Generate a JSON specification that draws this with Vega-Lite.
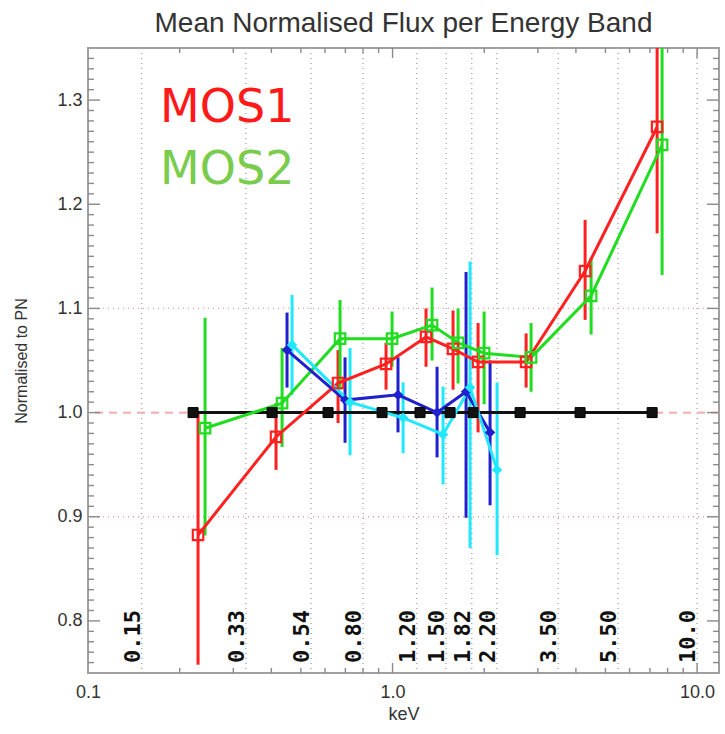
{
  "$schema": "https://vega.github.io/schema/vega-lite/v6.json",
  "width": 631,
  "height": 625,
  "autosize": "none",
  "padding": {"left": 88, "top": 48, "right": 6, "bottom": 61},
  "background": "white",
  "config": {
    "view": {"stroke": "#a0a0a0", "strokeWidth": 2},
    "axis": {"labelFont": "Liberation Sans", "labelFontSize": 18, "labelColor": "#333333", "titleFont": "Liberation Sans", "titleColor": "#333333", "titleFontWeight": "normal", "domain": false, "grid": false, "ticks": false}
  },
  "title": {"text": "Mean Normalised Flux per Energy Band", "font": "Liberation Sans", "fontSize": 28, "fontWeight": "normal", "color": "#333333", "anchor": "middle", "offset": 9},
  "datasets": {
    "pts": [
      {"s": "PN", "e": 0.2213, "v": 1.0},
      {"s": "PN", "e": 0.4021, "v": 1.0},
      {"s": "PN", "e": 0.6141, "v": 1.0},
      {"s": "PN", "e": 0.9237, "v": 1.0},
      {"s": "PN", "e": 1.231, "v": 1.0},
      {"s": "PN", "e": 1.545, "v": 1.0},
      {"s": "PN", "e": 1.838, "v": 1.0},
      {"s": "PN", "e": 2.623, "v": 1.0},
      {"s": "PN", "e": 4.128, "v": 1.0},
      {"s": "PN", "e": 7.117, "v": 1.0},
      {"s": "MOS1", "e": 0.2298, "v": 0.8825, "lo": 0.758, "hi": 1.0},
      {"s": "MOS1", "e": 0.4144, "v": 0.9766, "lo": 0.945, "hi": 1.009},
      {"s": "MOS1", "e": 0.6623, "v": 1.0284, "lo": 0.99, "hi": 1.06},
      {"s": "MOS1", "e": 0.952, "v": 1.0467, "lo": 1.022, "hi": 1.067},
      {"s": "MOS1", "e": 1.288, "v": 1.0726, "lo": 1.044, "hi": 1.1},
      {"s": "MOS1", "e": 1.58, "v": 1.0611, "lo": 1.022, "hi": 1.098},
      {"s": "MOS1", "e": 1.909, "v": 1.0486, "lo": 0.981, "hi": 1.086},
      {"s": "MOS1", "e": 2.745, "v": 1.0486, "lo": 1.024, "hi": 1.076},
      {"s": "MOS1", "e": 4.288, "v": 1.1359, "lo": 1.089, "hi": 1.185},
      {"s": "MOS1", "e": 7.391, "v": 1.2742, "lo": 1.172, "hi": 1.376},
      {"s": "MOS2", "e": 0.2423, "v": 0.985, "lo": 0.882, "hi": 1.091},
      {"s": "MOS2", "e": 0.4337, "v": 1.009, "lo": 0.967, "hi": 1.062},
      {"s": "MOS2", "e": 0.6724, "v": 1.071, "lo": 1.022, "hi": 1.108},
      {"s": "MOS2", "e": 0.9963, "v": 1.071, "lo": 1.044, "hi": 1.097},
      {"s": "MOS2", "e": 1.348, "v": 1.084, "lo": 1.05, "hi": 1.12},
      {"s": "MOS2", "e": 1.641, "v": 1.067, "lo": 1.028, "hi": 1.1},
      {"s": "MOS2", "e": 1.998, "v": 1.057, "lo": 1.008, "hi": 1.097},
      {"s": "MOS2", "e": 2.85, "v": 1.053, "lo": 1.02, "hi": 1.086},
      {"s": "MOS2", "e": 4.487, "v": 1.112, "lo": 1.075, "hi": 1.149},
      {"s": "MOS2", "e": 7.674, "v": 1.257, "lo": 1.132, "hi": 1.382},
      {"s": "MOS1 b", "e": 0.4503, "v": 1.06, "lo": 1.024, "hi": 1.096},
      {"s": "MOS1 b", "e": 0.6982, "v": 1.012, "lo": 0.971, "hi": 1.053},
      {"s": "MOS1 b", "e": 1.042, "v": 1.017, "lo": 0.981, "hi": 1.053},
      {"s": "MOS1 b", "e": 1.4, "v": 1.0, "lo": 0.957, "hi": 1.044},
      {"s": "MOS1 b", "e": 1.743, "v": 1.02, "lo": 0.899, "hi": 1.135},
      {"s": "MOS1 b", "e": 2.09, "v": 0.981, "lo": 0.911, "hi": 1.05},
      {"s": "MOS2 b", "e": 0.4677, "v": 1.065, "lo": 1.017, "hi": 1.113},
      {"s": "MOS2 b", "e": 0.7251, "v": 1.01, "lo": 0.959, "hi": 1.062},
      {"s": "MOS2 b", "e": 1.083, "v": 0.995, "lo": 0.961, "hi": 1.029},
      {"s": "MOS2 b", "e": 1.465, "v": 0.979, "lo": 0.931, "hi": 1.025},
      {"s": "MOS2 b", "e": 1.797, "v": 1.024, "lo": 0.87, "hi": 1.145},
      {"s": "MOS2 b", "e": 2.204, "v": 0.945, "lo": 0.863, "hi": 1.029}
    ],
    "bands": [
      {"b": 0.15, "t": "0.15"},
      {"b": 0.33, "t": "0.33"},
      {"b": 0.54, "t": "0.54"},
      {"b": 0.8, "t": "0.80"},
      {"b": 1.2, "t": "1.20"},
      {"b": 1.5, "t": "1.50"},
      {"b": 1.82, "t": "1.82"},
      {"b": 2.2, "t": "2.20"},
      {"b": 3.5, "t": "3.50"},
      {"b": 5.5, "t": "5.50"},
      {"b": 10.0, "t": "10.0"}
    ],
    "refs": [{"r": 0.9}, {"r": 1.1}],
    "xmajor": [{"k": 1}, {"k": 10}],
    "xminor": [{"k": 0.2}, {"k": 0.3}, {"k": 0.4}, {"k": 0.5}, {"k": 0.6}, {"k": 0.7}, {"k": 0.8}, {"k": 0.9}, {"k": 2}, {"k": 3}, {"k": 4}, {"k": 5}, {"k": 6}, {"k": 7}, {"k": 8}, {"k": 9}],
    "ymajor": [{"k": 0.8}, {"k": 0.9}, {"k": 1.0}, {"k": 1.1}, {"k": 1.2}, {"k": 1.3}],
    "yminor": [
      {"k": 0.76}, {"k": 0.77}, {"k": 0.78}, {"k": 0.79},
      {"k": 0.81}, {"k": 0.82}, {"k": 0.83}, {"k": 0.84}, {"k": 0.85}, {"k": 0.86}, {"k": 0.87}, {"k": 0.88}, {"k": 0.89},
      {"k": 0.91}, {"k": 0.92}, {"k": 0.93}, {"k": 0.94}, {"k": 0.95}, {"k": 0.96}, {"k": 0.97}, {"k": 0.98}, {"k": 0.99},
      {"k": 1.01}, {"k": 1.02}, {"k": 1.03}, {"k": 1.04}, {"k": 1.05}, {"k": 1.06}, {"k": 1.07}, {"k": 1.08}, {"k": 1.09},
      {"k": 1.11}, {"k": 1.12}, {"k": 1.13}, {"k": 1.14}, {"k": 1.15}, {"k": 1.16}, {"k": 1.17}, {"k": 1.18}, {"k": 1.19},
      {"k": 1.21}, {"k": 1.22}, {"k": 1.23}, {"k": 1.24}, {"k": 1.25}, {"k": 1.26}, {"k": 1.27}, {"k": 1.28}, {"k": 1.29},
      {"k": 1.31}, {"k": 1.32}, {"k": 1.33}, {"k": 1.34}
    ]
  },
  "layer": [
    {
      "data": {"name": "bands"},
      "mark": {"type": "rule", "stroke": "#a8a8a8", "strokeDash": [1, 4], "strokeWidth": 1.4},
      "encoding": {
        "x": {"field": "b", "type": "quantitative", "scale": {"type": "log", "domain": [0.1, 11.8], "nice": false, "zero": false},
          "axis": {"orient": "bottom", "values": [0.1, 1, 10], "labelExpr": "datum.value < 0.5 ? '0.1' : datum.value < 5 ? '1.0' : '10.0'", "labelPadding": 10, "labelFlush": false, "labelOverlap": false, "title": "keV", "titleFontSize": 18, "titlePadding": 4}}
      }
    },
    {
      "data": {"name": "refs"},
      "mark": {"type": "rule", "stroke": "#e8a4a4", "strokeDash": [1, 4], "strokeWidth": 1.4},
      "encoding": {
        "y": {"field": "r", "type": "quantitative", "scale": {"domain": [0.75, 1.35], "nice": false, "zero": false},
          "axis": {"orient": "left", "values": [0.8, 0.9, 1.0, 1.1, 1.2, 1.3], "format": ".1f", "labelPadding": 6, "title": "Normalised to PN", "titleFontSize": 16, "titlePadding": 27}}
      }
    },
    {
      "data": {"name": "refs"},
      "mark": {"type": "rule", "stroke": "#f0b4b4", "strokeDash": [8, 6], "strokeWidth": 1.6},
      "encoding": {"y": {"datum": 1.0, "type": "quantitative"}}
    },
    {
      "data": {"name": "xmajor"},
      "mark": {"type": "rule", "stroke": "#8a8a8a", "strokeWidth": 1.4},
      "encoding": {"x": {"field": "k", "type": "quantitative"}, "y": {"datum": 0.75, "type": "quantitative"}, "y2": {"datum": 0.7596}}
    },
    {
      "data": {"name": "xminor"},
      "mark": {"type": "rule", "stroke": "#8a8a8a", "strokeWidth": 1.4},
      "encoding": {"x": {"field": "k", "type": "quantitative"}, "y": {"datum": 0.75, "type": "quantitative"}, "y2": {"datum": 0.7548}}
    },
    {
      "data": {"name": "xmajor"},
      "mark": {"type": "rule", "stroke": "#8a8a8a", "strokeWidth": 1.4},
      "encoding": {"x": {"field": "k", "type": "quantitative"}, "y": {"datum": 1.35, "type": "quantitative"}, "y2": {"datum": 1.3404}}
    },
    {
      "data": {"name": "xminor"},
      "mark": {"type": "rule", "stroke": "#8a8a8a", "strokeWidth": 1.4},
      "encoding": {"x": {"field": "k", "type": "quantitative"}, "y": {"datum": 1.35, "type": "quantitative"}, "y2": {"datum": 1.3452}}
    },
    {
      "data": {"name": "ymajor"},
      "mark": {"type": "rule", "stroke": "#8a8a8a", "strokeWidth": 1.4},
      "encoding": {"y": {"field": "k", "type": "quantitative"}, "x": {"datum": 0.1, "type": "quantitative"}, "x2": {"datum": 0.1095}}
    },
    {
      "data": {"name": "yminor"},
      "mark": {"type": "rule", "stroke": "#8a8a8a", "strokeWidth": 1.4},
      "encoding": {"y": {"field": "k", "type": "quantitative"}, "x": {"datum": 0.1, "type": "quantitative"}, "x2": {"datum": 0.1046}}
    },
    {
      "data": {"name": "ymajor"},
      "mark": {"type": "rule", "stroke": "#8a8a8a", "strokeWidth": 1.4},
      "encoding": {"y": {"field": "k", "type": "quantitative"}, "x": {"datum": 11.8, "type": "quantitative"}, "x2": {"datum": 10.77}}
    },
    {
      "data": {"name": "yminor"},
      "mark": {"type": "rule", "stroke": "#8a8a8a", "strokeWidth": 1.4},
      "encoding": {"y": {"field": "k", "type": "quantitative"}, "x": {"datum": 11.8, "type": "quantitative"}, "x2": {"datum": 11.28}}
    },
    {
      "data": {"name": "pts"},
      "transform": [{"filter": "datum.s !== 'PN'"}],
      "mark": {"type": "rule", "strokeWidth": 3, "clip": true},
      "encoding": {
        "x": {"field": "e", "type": "quantitative"},
        "y": {"field": "lo", "type": "quantitative"},
        "y2": {"field": "hi"},
        "color": {"field": "s", "type": "nominal", "scale": {"domain": ["PN", "MOS1", "MOS2", "MOS1 b", "MOS2 b"], "range": ["#111111", "#ff2020", "#20dd20", "#2020cc", "#20e8ff"]}, "legend": null}
      }
    },
    {
      "data": {"name": "pts"},
      "mark": {"type": "line", "strokeWidth": 3, "clip": true},
      "encoding": {
        "x": {"field": "e", "type": "quantitative"},
        "y": {"field": "v", "type": "quantitative"},
        "color": {"field": "s", "type": "nominal", "legend": null},
        "detail": {"field": "s"}
      }
    },
    {
      "data": {"name": "pts"},
      "transform": [{"filter": "datum.s === 'MOS1' || datum.s === 'MOS2'"}],
      "mark": {"type": "point", "shape": "square", "filled": false, "size": 110, "strokeWidth": 2.2, "opacity": 1, "clip": true},
      "encoding": {
        "x": {"field": "e", "type": "quantitative"},
        "y": {"field": "v", "type": "quantitative"},
        "color": {"field": "s", "type": "nominal", "legend": null}
      }
    },
    {
      "data": {"name": "pts"},
      "transform": [{"filter": "datum.s === 'PN'"}],
      "mark": {"type": "point", "shape": "square", "filled": true, "size": 100, "opacity": 1, "stroke": "#000000", "strokeWidth": 1},
      "encoding": {
        "x": {"field": "e", "type": "quantitative"},
        "y": {"field": "v", "type": "quantitative"},
        "color": {"field": "s", "type": "nominal", "legend": null}
      }
    },
    {
      "data": {"name": "pts"},
      "transform": [{"filter": "datum.s === 'MOS1 b' || datum.s === 'MOS2 b'"}],
      "mark": {"type": "point", "shape": "diamond", "filled": true, "size": 110, "opacity": 1},
      "encoding": {
        "x": {"field": "e", "type": "quantitative"},
        "y": {"field": "v", "type": "quantitative"},
        "color": {"field": "s", "type": "nominal", "legend": null}
      }
    },
    {
      "data": {"name": "bands"},
      "mark": {"type": "text", "angle": 270, "align": "left", "baseline": "alphabetic", "dy": -2, "font": "DejaVu Sans Mono", "fontWeight": "bold", "fontSize": 22, "fill": "#111111"},
      "encoding": {
        "x": {"field": "b", "type": "quantitative"},
        "y": {"datum": 0.7596, "type": "quantitative"},
        "text": {"field": "t"}
      }
    },
    {
      "data": {"values": [{"label": "MOS1"}]},
      "mark": {"type": "text", "align": "left", "baseline": "middle", "font": "DejaVu Sans", "fontSize": 46, "fill": "#ff1a1a"},
      "encoding": {
        "x": {"datum": 0.1724, "type": "quantitative"},
        "y": {"datum": 1.2924, "type": "quantitative"},
        "text": {"field": "label"}
      }
    },
    {
      "data": {"values": [{"label": "MOS2"}]},
      "mark": {"type": "text", "align": "left", "baseline": "middle", "font": "DejaVu Sans", "fontSize": 46, "fill": "#7acc4c"},
      "encoding": {
        "x": {"datum": 0.1724, "type": "quantitative"},
        "y": {"datum": 1.2327, "type": "quantitative"},
        "text": {"field": "label"}
      }
    }
  ]
}
